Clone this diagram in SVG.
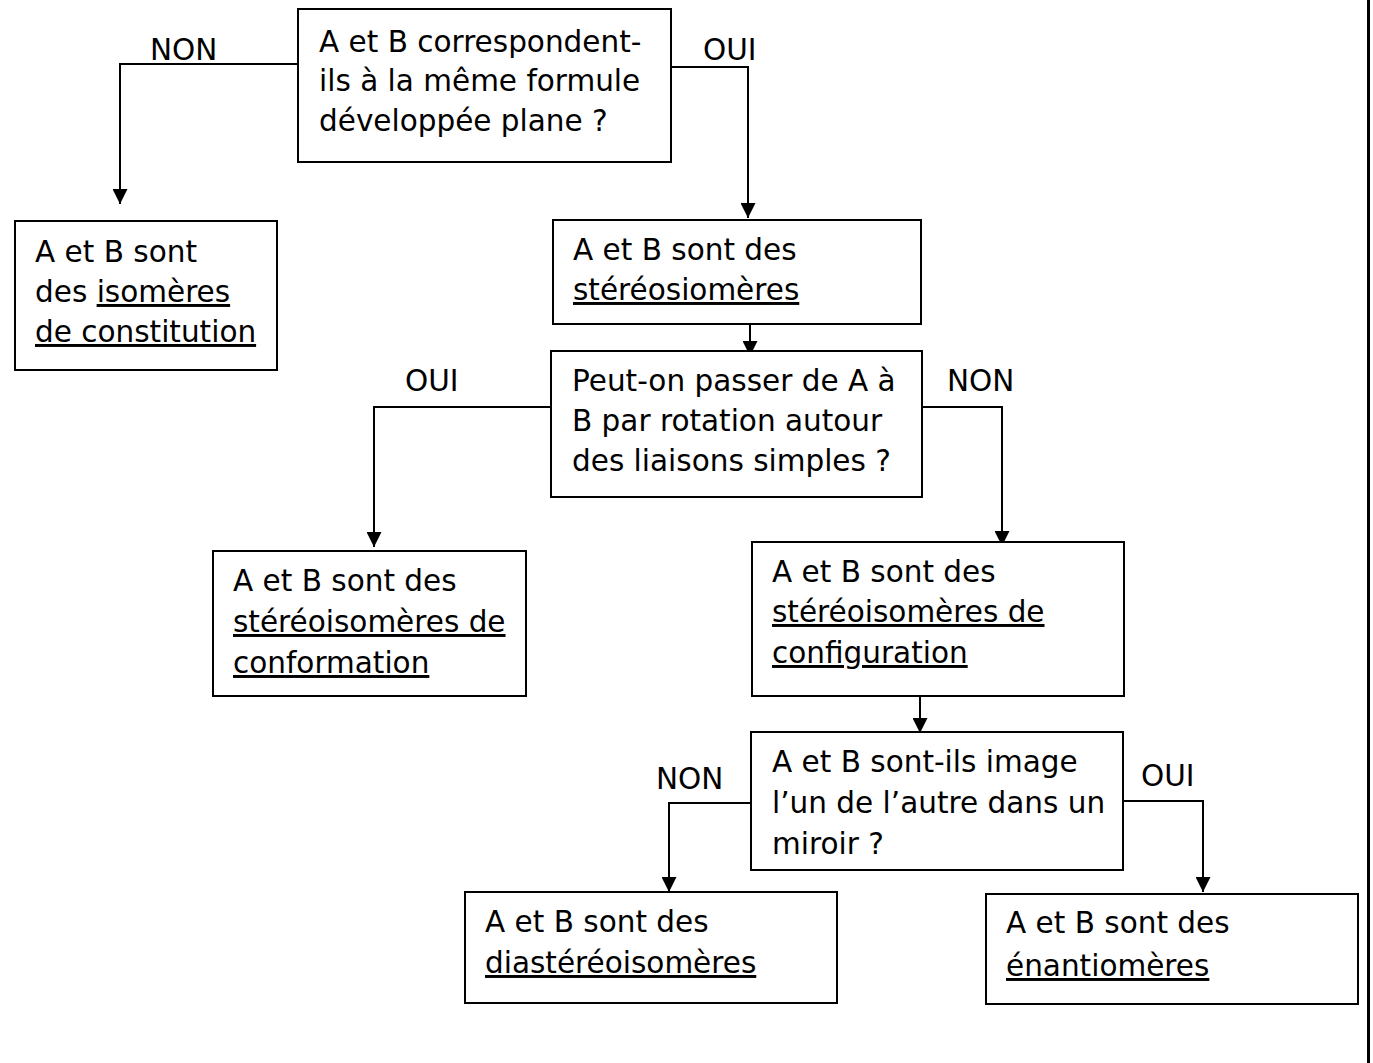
<svg xmlns="http://www.w3.org/2000/svg" width="1373" height="1063" viewBox="0 0 1373 1063">
<style>
  .box { fill: #ffffff; stroke: #000000; stroke-width: 2; }
  .t { font-family: "DejaVu Sans", Verdana, "Liberation Sans", sans-serif; font-size: 29.5px; fill: #000000; }
  .u { text-decoration: underline; text-decoration-thickness: 2px; text-underline-offset: 4px; }
  .c { fill: none; stroke: #000000; stroke-width: 2; marker-end: url(#arr); }
</style>
<defs>
  <marker id="arr" markerUnits="userSpaceOnUse" viewBox="0 0 15 15" markerWidth="15" markerHeight="15" refX="15" refY="7.5" orient="auto">
    <path d="M0,0 L15,7.5 L0,15 z" fill="#000000"/>
  </marker>
</defs>
<rect x="0" y="0" width="1373" height="1063" fill="#ffffff"/>
<line x1="1368.5" y1="0" x2="1368.5" y2="1063" stroke="#000000" stroke-width="3"/>

<g id="connectors">
  <polyline class="c" points="298,64 120,64 120,204"/>
  <polyline class="c" points="671,67 748,67 748,218"/>
  <polyline class="c" points="750,319 750,356"/>
  <polyline class="c" points="551,407 374,407 374,547"/>
  <polyline class="c" points="922,407 1002,407 1002,546"/>
  <polyline class="c" points="920,696 920,733"/>
  <polyline class="c" points="751,803 669,803 669,892"/>
  <polyline class="c" points="1123,801 1203,801 1203,892"/>
  <text class="t" x="150" y="60">NON</text>
  <text class="t" x="703" y="60">OUI</text>
  <text class="t" x="405" y="391">OUI</text>
  <text class="t" x="947" y="391">NON</text>
  <text class="t" x="656" y="789">NON</text>
  <text class="t" x="1141" y="786">OUI</text>
</g>

<g id="q1">
  <rect class="box" x="298" y="9" width="373" height="153"/>
  <text class="t" x="319" y="52">A et B correspondent-</text>
  <text class="t" x="319" y="91">ils à la même formule</text>
  <text class="t" x="319" y="131">développée plane ?</text>
</g>

<g id="isomeres">
  <rect class="box" x="15" y="221" width="262" height="149"/>
  <text class="t" x="35" y="262">A et B sont</text>
  <text class="t" x="35" y="302">des <tspan class="u">isomères</tspan></text>
  <text class="t" x="35" y="342"><tspan class="u">de constitution</tspan></text>
</g>

<g id="stereo">
  <rect class="box" x="553" y="220" width="368" height="104"/>
  <text class="t" x="573" y="260">A et B sont des</text>
  <text class="t" x="573" y="300"><tspan class="u">stéréosiomères</tspan></text>
</g>

<g id="q2">
  <rect class="box" x="551" y="351" width="371" height="146"/>
  <text class="t" x="572" y="391">Peut-on passer de A à</text>
  <text class="t" x="572" y="431">B par rotation autour</text>
  <text class="t" x="572" y="471">des liaisons simples ?</text>
</g>

<g id="conformation">
  <rect class="box" x="213" y="551" width="313" height="145"/>
  <text class="t" x="233" y="591">A et B sont des</text>
  <text class="t" x="233" y="632"><tspan class="u">stéréoisomères de</tspan></text>
  <text class="t" x="233" y="673"><tspan class="u">conformation</tspan></text>
</g>

<g id="configuration">
  <rect class="box" x="752" y="542" width="372" height="154"/>
  <text class="t" x="772" y="582">A et B sont des</text>
  <text class="t" x="772" y="622"><tspan class="u">stéréoisomères de</tspan></text>
  <text class="t" x="772" y="663"><tspan class="u">configuration</tspan></text>
</g>

<g id="q3">
  <rect class="box" x="751" y="732" width="372" height="138"/>
  <text class="t" x="772" y="772">A et B sont-ils image</text>
  <text class="t" x="772" y="813">l’un de l’autre dans un</text>
  <text class="t" x="772" y="854">miroir ?</text>
</g>

<g id="diastereo">
  <rect class="box" x="465" y="892" width="372" height="111"/>
  <text class="t" x="485" y="932">A et B sont des</text>
  <text class="t" x="485" y="973"><tspan class="u">diastéréoisomères</tspan></text>
</g>

<g id="enantio">
  <rect class="box" x="986" y="894" width="372" height="110"/>
  <text class="t" x="1006" y="933">A et B sont des</text>
  <text class="t" x="1006" y="976"><tspan class="u">énantiomères</tspan></text>
</g>
</svg>
